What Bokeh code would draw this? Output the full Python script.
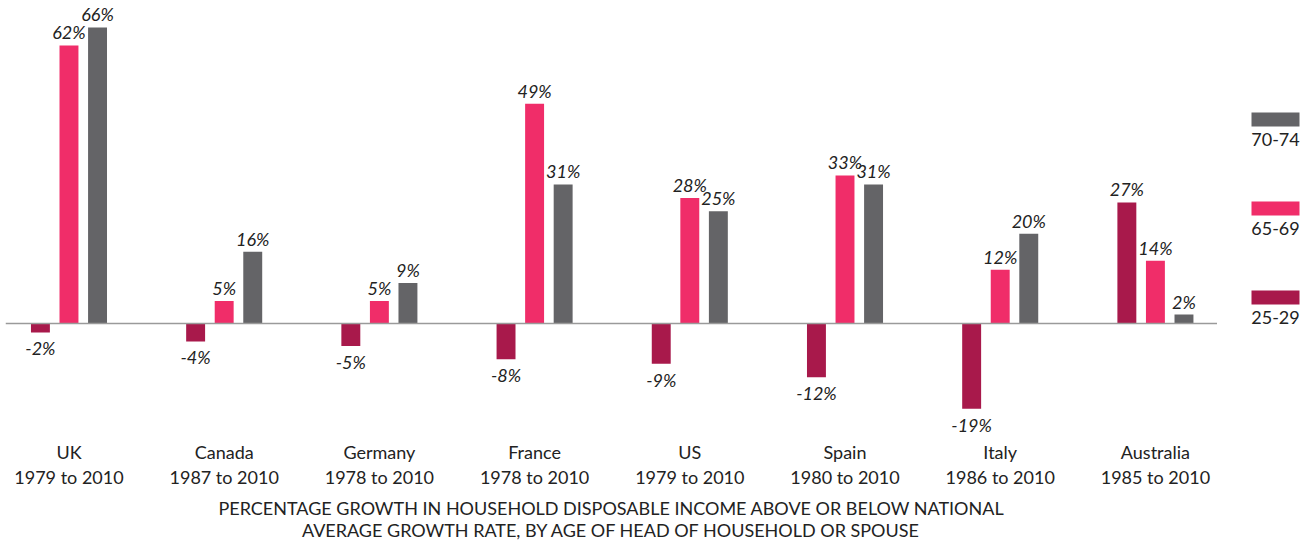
from bokeh.plotting import figure
from bokeh.models import ColumnDataSource, Range1d, FixedTicker, Span
from bokeh.transform import dodge
from bokeh.layouts import row
from bokeh.embed import file_html
from bokeh.resources import INLINE
from bokeh.core.properties import value

# ---- data ----
countries = ["UK", "Canada", "Germany", "France", "US", "Spain", "Italy", "Australia"]
periods = ["1979 to 2010", "1987 to 2010", "1978 to 2010", "1978 to 2010",
           "1979 to 2010", "1980 to 2010", "1986 to 2010", "1985 to 2010"]
age_25_29 = [-2, -4, -5, -8, -9, -12, -19, 27]
age_65_69 = [62, 5, 5, 49, 28, 33, 12, 14]
age_70_74 = [66, 16, 9, 31, 25, 31, 20, 2]
series_names = ["25-29", "65-69", "70-74"]
title_lines = ["PERCENTAGE GROWTH IN HOUSEHOLD DISPOSABLE INCOME ABOVE OR BELOW NATIONAL",
               "AVERAGE GROWTH RATE, BY AGE OF HEAD OF HOUSEHOLD OR SPOUSE"]

# ---- style ----
FONT = "Lato"
TXT = "#222222"
colors = {"25-29": "#A8194B", "65-69": "#F02D69", "70-74": "#646467"}
offsets = {"25-29": -0.184, "65-69": 0.0, "70-74": 0.184}
BAR_W = 0.122

idx = list(range(len(countries)))

p = figure(frame_width=1212, frame_height=432,
           x_range=Range1d(-0.409, 7.40), y_range=Range1d(-24.31, 72.02),
           y_axis_location=None, toolbar_location=None, output_backend="svg",
           min_border_left=5, min_border_right=0, min_border_top=0, min_border_bottom=0)
p.outline_line_color = None
p.xgrid.visible = False
p.ygrid.visible = False

for name, vals in zip(series_names, [age_25_29, age_65_69, age_70_74]):
    src = ColumnDataSource(dict(x=idx, v=vals))
    p.vbar(x=dodge("x", offsets[name], range=p.x_range), top="v", width=BAR_W,
           source=src, fill_color=colors[name], line_color=None)
    pos = [(i, v) for i, v in zip(idx, vals) if v >= 0]
    neg = [(i, v) for i, v in zip(idx, vals) if v < 0]
    if pos:
        s = ColumnDataSource(dict(x=[a for a, _ in pos], y=[b for _, b in pos],
                                  t=[f"{b}%" for _, b in pos]))
        p.text(x=dodge("x", offsets[name], range=p.x_range), y="y", text="t", source=s,
               text_font=value(FONT), text_font_size="18px", text_font_style="italic",
               text_color=TXT, text_align="center", text_baseline="bottom", y_offset=-2)
    if neg:
        s = ColumnDataSource(dict(x=[a for a, _ in neg], y=[b for _, b in neg],
                                  t=[f"{b}%" for _, b in neg]))
        p.text(x=dodge("x", offsets[name], range=p.x_range), y="y", text="t", source=s,
               text_font=value(FONT), text_font_size="18px", text_font_style="italic",
               text_color=TXT, text_align="center", text_baseline="top", y_offset=5)

p.add_layout(Span(location=0, dimension="width", line_color="#9a9a9a", line_width=1.5))

ax = p.xaxis[0]
ax.ticker = FixedTicker(ticks=idx)
ax.major_label_overrides = {i: f"{c}\n{y}" for i, c, y in zip(idx, countries, periods)}
ax.axis_line_color = None
ax.major_tick_line_color = None
ax.minor_tick_line_color = None
ax.major_tick_in = 0
ax.major_tick_out = 0
ax.major_label_text_font = FONT
ax.major_label_text_font_size = "18px"
ax.major_label_text_color = TXT
ax.major_label_text_line_height = 1.16
ax.major_label_standoff = 8
ax.axis_label = "\n".join(title_lines)
ax.axis_label_text_font = FONT
ax.axis_label_text_font_size = "18px"
ax.axis_label_text_font_style = "normal"
ax.axis_label_text_color = TXT
ax.axis_label_text_line_height = 0.98
ax.axis_label_standoff = 6

# ---- legend panel ----
q = figure(frame_width=87, frame_height=541,
           x_range=Range1d(0, 87), y_range=Range1d(541, 0),
           x_axis_location=None, y_axis_location=None, toolbar_location=None,
           output_backend="svg", min_border=0)
q.outline_line_color = None
q.xgrid.visible = False
q.ygrid.visible = False

leg_order = ["70-74", "65-69", "25-29"]
leg_y = [119 + 89 * k for k in range(len(leg_order))]
lsrc = ColumnDataSource(dict(y=leg_y, ty=[v + 20 for v in leg_y], t=leg_order,
                             c=[colors[n] for n in leg_order]))
q.rect(x=58, y="y", width=48, height=14, source=lsrc, fill_color="c", line_color=None)
q.text(x=58, y="ty", text="t", source=lsrc, text_font=value(FONT), text_font_size="18px",
       text_color=TXT, text_align="center", text_baseline="middle")

layout = row(p, q)
open("out.html", "w").write(file_html(layout, INLINE))
